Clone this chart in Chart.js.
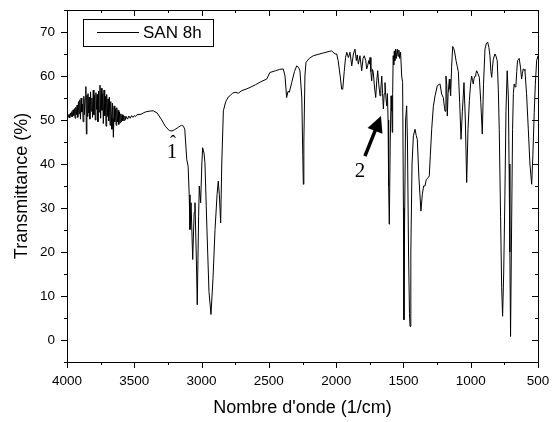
<!DOCTYPE html>
<html><head><meta charset="utf-8">
<script src="https://cdn.jsdelivr.net/npm/chart.js@4"></script>
<style>html,body{margin:0;padding:0;background:#fff}canvas{display:block}</style>
</head><body>
<canvas id="c" width="553" height="422"></canvas>
<script>
const seriesLabel = 'SAN 8h';
const xTitle = "Nombre d'onde (1/cm)";
const yTitle = 'Transmittance (%)';
const xTicks = [4000, 3500, 3000, 2500, 2000, 1500, 1000, 500];
const yTicks = [0, 10, 20, 30, 40, 50, 60, 70];

const wavenumbers = [
4000,3995,3990,3985,3980,3975,3970,3965,3960,3955,3950,3945,3940,3935,3930,3925,3920,3915,3910,3905,3900,3895,3890,3885,3880,3875,3870,3865,3860,3856,3852,3848,3844,3840,3835,3830,3825,3820,3815,3810,3805,3800,3795,3790,3785,3780,3775,3770,3765,3760,3755,3750,3745,3740,3735,3730,3725,3720,3715,3710,3705,3700,3695,3690,3685,3680,3675,3670,3666,3662,3658,3655,3650,3645,3640,3635,3630,3625,3620,3615,3610,3605,3600,3595,3590,3585,3580,3575,3570,3565,3560,3550,3540,3530,3520,3510,3500,3490,3480,
3450,3420,3390,3360,3330,3300,3270,3240,3220,3200,3170,3150,3135,3125,3110,3100,3092,3086,3078,3066,3055,3049,3040,3032,3022,3017,3007,2998,2992,2982,2975,2960,2945,2930,2915,2900,2885,2876,2868,2858,2850,2838,2820,2800,2789,2770,2752,2727,2700,2670,2640,2600,2560,2516,2492,2450,2420,2393,2380,2368,2358,2348,2330,2310,2293,2280,2269,2255,2248,2244,2240,2232,2224,2200,2170,2100,2050,2033,2008,1996,1985,1970,1959,1951,1940,1930,1921,1909,1897,1884,1872,1860,1850,1843,1835,1823,1810,1800,1791,1780,1773,1766,1758,1753,1748,1742,1736,1730,1724,1715,1706,1698,1691,1683,1674,1668,1661,1655,1649,1643,1637,1630,1624,1619,1614,1610,1605,1598,1592,1586,1583,1580,1576,1572,1568,1563,1558,1552,1546,1540,1534,1528,1521,1513,1506,1500,1496,1492,1484,1476,1470,1462,1455,1451,1445,1436,1426,1414,1405,1397,1385,1370,1360,1350,1340,1330,1315,1308,1300,1290,1278,1265,1248,1228,1216,1204,1191,1184,1178,1174,1168,1159,1154,1149,1142,1134,1125,1117,1109,1100,1092,1082,1072,1062,1050,1040,1030,1020,1010,1000,993,987,981,975,968,962,956,946,936,925,914,905,894,885,874,865,857,850,844,838,832,820,812,803,795,788,778,770,763,755,746,738,729,720,715,709,704,698,689,683,677,670,664,658,652,640,630,622,616,610,603,597,585,572,560,547,538,528,520,510,500
];
const transmittance = [
50.9,51.4,50.6,51.2,50.5,51.6,50.8,51.9,50.7,52.3,51.0,52.6,50.4,52.9,51.2,53.4,50.6,54.2,51.4,54.6,50.2,55.0,51.8,53.6,49.6,55.4,51.2,54.8,57.6,46.8,55.6,50.8,56.0,51.6,55.2,50.2,56.4,52.0,55.0,50.6,56.8,51.2,55.6,50.0,56.2,52.4,55.8,49.6,56.6,51.8,57.9,50.4,57.2,52.2,56.0,49.2,56.8,51.0,55.4,48.6,55.8,50.8,54.8,49.8,55.2,48.8,54.2,50.6,47.9,53.8,50.2,46.1,53.2,49.6,52.6,48.8,52.8,49.6,52.2,49.0,51.8,49.4,51.4,49.6,51.2,49.8,51.0,49.9,50.9,50.1,50.8,50.2,50.9,50.4,51.0,50.6,51.0,50.8,51.2,
51.3,51.8,52.0,52.1,51.6,50.2,48.6,47.6,47.5,47.8,48.4,48.8,48.6,47.9,41.0,39.5,33,25.1,31.2,18.3,29,31.2,20,8.0,28,35.0,31.2,40,43.7,42.5,40.3,25,11,5.8,14,25.1,33,36.1,33,26.6,40,52.1,54.2,55.3,55.5,56.1,56.3,56.1,56.7,57.0,57.4,58.0,58.7,59.3,60.8,61.2,61.5,61.6,60.0,55.1,56.5,56.3,58.5,61.0,62.3,62.0,61.2,55,42,35.4,45,60,63.1,64.0,64.6,65.2,65.6,65.7,65.0,65.0,63.5,60,57.0,57.0,61,64.2,65.4,64.2,65.4,62.3,65.0,66.1,63.5,64.8,62.7,64.6,61.2,64,64.6,63.5,61.6,62.3,63.5,62.7,64.2,61,58.9,61.5,60.8,57.5,55.1,59,61.2,58,55.5,57,60.0,56,52.5,56,58.5,55,53.2,56,50,35,26.3,45,55.5,52,47.2,56,64.6,62.5,65.7,63.5,66.1,64.0,66.1,64.5,65.9,64.0,65.4,60,58.5,30,4.6,25,50,53.2,45,20,6,3.1,20,40,46.4,47.9,46.5,45.6,37,29.3,33,35,35.0,36.5,36.9,37.3,42,47.9,53,55.5,57.8,58.2,55.9,55.1,52,60.0,58,50.9,56,59.3,57,55.5,62,66.7,66.2,65.0,63.5,62.2,61.0,54,45.6,52,58.5,50,35.8,48,54.4,58.5,60.0,59,58.2,59.5,60.0,60.5,61.2,60.5,59.7,54,46.8,58,66.1,67.3,67.7,66.5,64.6,61,59.7,62,63.8,65.0,64.5,63.5,57,47.9,28,12,5.4,15,32.7,52,61.2,55,40,20,0.8,20,47.9,56,58.2,57.5,57.8,61,63.5,64.0,62,59.3,60.5,61.6,61.5,61.2,56,47.9,40,35.4,42,51.7,58,63.5,64.6
];

const annotationTexts = ['1', '2'];
const annotationX = [3220, 1823];
const annotationY = [42.7, 38.3];
const hatIndex = 0;
const arrowFrom = [1786, 41.8];
const arrowTo = [1667, 50.9];

const points = wavenumbers.map((w, i) => ({x: w, y: transmittance[i]}));

const framePlugin = {
  id: 'frame',
  afterDatasetsDraw(chart) {
    const {ctx, chartArea: a, scales: {x, y}} = chart;
    ctx.save();
    ctx.strokeStyle = '#000';
    ctx.lineWidth = 1;
    ctx.strokeRect(Math.round(a.left) + 0.5, Math.round(a.top) + 0.5, Math.round(a.right - a.left), Math.round(a.bottom - a.top));
    ctx.beginPath();
    for (let v = 500; v <= 4000; v += 250) {
      const px = Math.round(x.getPixelForValue(v)) + 0.5;
      const major = v % 500 === 0;
      const L = major ? 6 : 3;
      ctx.moveTo(px, a.bottom); ctx.lineTo(px, a.bottom + L);
      ctx.moveTo(px, a.top); ctx.lineTo(px, a.top + L);
    }
    for (let v = -5; v <= 75; v += 5) {
      const py = Math.round(y.getPixelForValue(v)) + 0.5;
      const major = v % 10 === 0;
      const L = major ? 6 : 3;
      ctx.moveTo(a.left, py); ctx.lineTo(a.left - L, py);
      ctx.moveTo(a.right, py); ctx.lineTo(a.right - L, py);
    }
    ctx.stroke();

    // legend
    ctx.strokeRect(83.5, 19.5, 130, 27);
    ctx.beginPath();
    ctx.moveTo(97, 32.5); ctx.lineTo(139, 32.5); ctx.stroke();
    ctx.fillStyle = '#000';
    ctx.font = '17px "Liberation Sans", Arial, sans-serif';
    ctx.textBaseline = 'middle';
    ctx.textAlign = 'left';
    ctx.fillText(chart.data.datasets[0].label, 143, 33);

    // annotations
    ctx.font = '21px "Liberation Serif", "Times New Roman", serif';
    ctx.textAlign = 'center';
    for (let i = 0; i < annotationTexts.length; i++) {
      const ax = x.getPixelForValue(annotationX[i]), ay = y.getPixelForValue(annotationY[i]);
      ctx.fillText(annotationTexts[i], ax, ay);
      if (i === hatIndex) {
        ctx.font = '18px "Liberation Serif", "Times New Roman", serif';
        ctx.fillText('\u02C6', ax + 1, ay - 9);
        ctx.font = '21px "Liberation Serif", "Times New Roman", serif';
      }
    }
    // arrow
    const x0 = x.getPixelForValue(arrowFrom[0]), y0 = y.getPixelForValue(arrowFrom[1]);
    const x1 = x.getPixelForValue(arrowTo[0]), y1 = y.getPixelForValue(arrowTo[1]);
    const ang = Math.atan2(y1 - y0, x1 - x0);
    const hl = 16, hw = 8;
    const bx = x1 - hl * Math.cos(ang), by = y1 - hl * Math.sin(ang);
    ctx.lineWidth = 3.5;
    ctx.beginPath(); ctx.moveTo(x0, y0); ctx.lineTo(bx + 2 * Math.cos(ang), by + 2 * Math.sin(ang)); ctx.stroke();
    ctx.beginPath();
    ctx.moveTo(x1, y1);
    ctx.lineTo(bx + hw * Math.sin(ang), by - hw * Math.cos(ang));
    ctx.lineTo(bx - hw * Math.sin(ang), by + hw * Math.cos(ang));
    ctx.closePath(); ctx.fill();
    ctx.restore();
  }
};

const tickFont = {family: '"Liberation Sans", Arial, sans-serif', size: 13.5};
const titleFont = {family: '"Liberation Sans", Arial, sans-serif', size: 18};

new Chart(document.getElementById('c'), {
  type: 'line',
  data: {datasets: [{label: seriesLabel, data: points, borderColor: '#000', borderWidth: 1, pointRadius: 0, tension: 0, fill: false}]},
  options: {
    responsive: false, animation: false, devicePixelRatio: 1,
    layout: {padding: {top: 10, right: 15, left: 0, bottom: 0}},
    plugins: {legend: {display: false}, tooltip: {enabled: false}},
    scales: {
      x: {
        type: 'linear', reverse: true, min: 500, max: 4000,
        afterBuildTicks: s => { s.ticks = xTicks.map(v => ({value: v})); },
        afterFit: s => { s.height = 60; s.paddingLeft = 0; s.paddingRight = 0; },
        grid: {display: false, drawTicks: false}, border: {display: false},
        ticks: {color: '#000', font: tickFont, padding: 11, maxRotation: 0, autoSkip: false, callback: v => String(v)},
        title: {display: true, text: xTitle, color: '#000', font: titleFont, padding: {top: 0, bottom: 3}}
      },
      y: {
        type: 'linear', min: -5, max: 75,
        afterBuildTicks: s => { s.ticks = yTicks.map(v => ({value: v})); },
        afterFit: s => { s.width = 67; s.paddingTop = 0; s.paddingBottom = 0; },
        grid: {display: false, drawTicks: false}, border: {display: false},
        ticks: {color: '#000', font: tickFont, padding: 12, callback: v => String(v)},
        title: {display: true, text: yTitle, color: '#000', font: titleFont, padding: {top: 11, bottom: 0}}
      }
    }
  },
  plugins: [framePlugin]
});
</script>
</body></html>
